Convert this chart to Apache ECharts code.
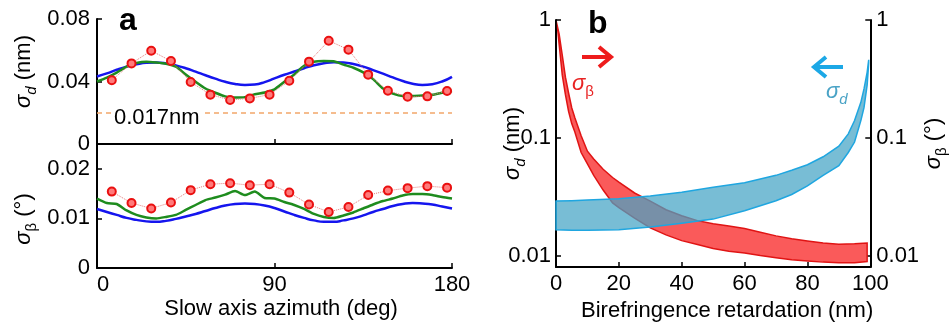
<!DOCTYPE html>
<html>
<head>
<meta charset="utf-8">
<script src="https://cdn.jsdelivr.net/npm/echarts@6/dist/echarts.min.js"></script>
<style>
  html, body { margin: 0; padding: 0; background: #fff; }
  #chart { width: 950px; height: 335px; }
</style>
</head>
<body>
<div id="chart"></div>
<script>
// ---- Panel a: noise vs. slow-axis azimuth ----
const azimuth = [0, 5, 10, 15, 20, 25, 30, 35, 40, 45, 50, 55, 60, 65, 70, 75, 80, 85, 90,
                 95, 100, 105, 110, 115, 120, 125, 130, 135, 140, 145, 150, 155, 160, 165, 170, 175, 180];

// sigma_d (nm): theory (blue) and simulation (green)
const sigmaDTheory = [0.0432, 0.0452, 0.0475, 0.0495, 0.0510, 0.0520, 0.0522, 0.0516, 0.0503, 0.0485,
                      0.0463, 0.0440, 0.0418, 0.0398, 0.0384, 0.0378, 0.0381, 0.0396, 0.0420,
                      0.0443, 0.0464, 0.0485, 0.0504, 0.0517, 0.0524, 0.0522, 0.0512, 0.0495, 0.0473,
                      0.0450, 0.0426, 0.0403, 0.0386, 0.0378, 0.0383, 0.0400, 0.0430];
const sigmaDSim = [0.0400, 0.0425, 0.0457, 0.0495, 0.0518, 0.0527, 0.0522, 0.0514, 0.0495, 0.0445,
                   0.0398, 0.0355, 0.0328, 0.0305, 0.0297, 0.0300, 0.0318, 0.0330, 0.0350,
                   0.0398, 0.0445, 0.0500, 0.0526, 0.0531, 0.0530, 0.0508, 0.0488, 0.0458, 0.0415,
                   0.0355, 0.0322, 0.0307, 0.0307, 0.0310, 0.0315, 0.0328, 0.0339];

// sigma_beta (deg): theory (blue) and simulation (green)
const sigmaBTheory = [0.0119, 0.0113, 0.0107, 0.0101, 0.0097, 0.0094, 0.0093, 0.0095, 0.0099, 0.0104,
                      0.0109, 0.0115, 0.0121, 0.0126, 0.0129, 0.0130, 0.0129, 0.0126, 0.0121,
                      0.0114, 0.0107, 0.0101, 0.0096, 0.0093, 0.0093, 0.0096, 0.0100, 0.0106, 0.0113,
                      0.0119, 0.0125, 0.0129, 0.0131, 0.0130, 0.0128, 0.0124, 0.0120];
const sigmaBSim = [0.0140, 0.0131, 0.0129, 0.0116, 0.0107, 0.0102, 0.0100, 0.0103, 0.0107, 0.0117,
                   0.0127, 0.0137, 0.0142, 0.0148, 0.0155, 0.0147, 0.0154, 0.0141, 0.0140,
                   0.0133, 0.0127, 0.0119, 0.0109, 0.0103, 0.0101, 0.0106, 0.0112, 0.0120, 0.0128,
                   0.0135, 0.0140, 0.0146, 0.0149, 0.0149, 0.0147, 0.0143, 0.0140];

// measured points (red)
const measuredAzimuth = [7.5, 17.5, 27.5, 37.5, 47.5, 57.5, 67.5, 77.5, 87.5,
                         97.5, 107.5, 117.5, 127.5, 137.5, 147.5, 157.5, 167.5, 177.5];
const sigmaDMeasured = [0.0408, 0.0516, 0.0597, 0.0531, 0.0397, 0.0316, 0.0282, 0.0292, 0.0316,
                        0.0405, 0.0527, 0.0661, 0.0604, 0.0444, 0.0341, 0.0303, 0.0305, 0.0339];
const sigmaBMeasured = [0.0154, 0.0131, 0.0120, 0.0132, 0.0157, 0.0169, 0.0171, 0.0167, 0.0169,
                        0.0152, 0.0128, 0.0113, 0.0123, 0.0147, 0.0156, 0.0161, 0.0165, 0.0162];

const noiseFloor = 0.017; // nm

// ---- Panel b: noise vs. birefringence retardation (bands) ----
const retardBeta = [0.5, 1, 2, 3, 4, 5, 6, 8, 10, 12, 15, 18, 20, 25, 30, 35, 40, 45, 50, 55, 60, 65, 70, 75, 80, 85, 90, 95, 99];
const sigmaBHigh = [0.87, 0.76, 0.50, 0.327, 0.24, 0.18, 0.148, 0.104, 0.077, 0.066, 0.054, 0.046, 0.042, 0.034, 0.029,
                    0.0245, 0.0218, 0.0198, 0.0186, 0.0178, 0.0170, 0.0158, 0.0147, 0.0139, 0.0133, 0.0128, 0.0125, 0.0126, 0.0128];
const sigmaBLow = [0.85, 0.62, 0.34, 0.232, 0.168, 0.132, 0.112, 0.075, 0.060, 0.048, 0.036, 0.028, 0.0255, 0.0208, 0.0172,
                   0.0150, 0.0134, 0.0124, 0.0115, 0.0109, 0.0105, 0.0100, 0.0096, 0.0092, 0.0090, 0.0088, 0.0087, 0.0087, 0.0089];

const retardD = [0, 5, 10, 20, 30, 40, 50, 60, 70, 75, 80, 85, 90, 93, 95, 97, 98, 99, 99.5];
const sigmaDHigh = [0.0290, 0.0292, 0.0296, 0.0304, 0.0321, 0.0345, 0.0380, 0.0415, 0.0480, 0.0530,
                    0.0590, 0.0690, 0.0850, 0.1080, 0.1400, 0.2000, 0.2600, 0.3600, 0.4600];
const sigmaDLow = [0.0166, 0.0164, 0.0164, 0.0166, 0.0175, 0.0188, 0.0204, 0.0240, 0.0292, 0.0330,
                   0.0390, 0.0480, 0.0580, 0.0750, 0.0920, 0.1400, 0.1800, 0.2800, 0.4300];

const FONT = '"Liberation Sans", Arial, Helvetica, sans-serif';
const pairs = (xs, ys) => xs.map((x, i) => [x, ys[i]]);

const axisLine = { show: true, onZero: false, lineStyle: { color: '#000', width: 2 } };
const axisTick = { show: true, inside: true, length: 5, lineStyle: { color: '#000', width: 1.5 } };
const labelStyle = { color: '#000', fontSize: 22, fontFamily: FONT };
const nameRich = {
  s: { fontSize: 22, fontStyle: 'italic', fontFamily: FONT, color: '#000', lineHeight: 30 },
  d: { fontSize: 15, fontStyle: 'italic', fontFamily: FONT, color: '#000', lineHeight: 14, verticalAlign: 'bottom' },
  b: { fontSize: 15, fontFamily: FONT, color: '#000', lineHeight: 14, verticalAlign: 'bottom' },
  n: { fontSize: 22, fontFamily: FONT, color: '#000', lineHeight: 30 }
};
const logLabel = v => {
  const l = Math.log10(v);
  return Math.abs(l - Math.round(l)) < 1e-6 ? String(+v.toPrecision(3)) : '';
};

// Filled band between a lower and an upper curve, in data coordinates
function band(xs, lo, hi, fill, stroke) {
  return {
    type: 'custom',
    xAxisIndex: 2,
    yAxisIndex: 2,
    silent: true,
    data: xs.map((x, i) => [x, lo[i], hi[i]]),
    encode: { x: 0, y: [1, 2] },
    renderItem(params, api) {
      if (params.dataIndex !== 0) return null;
      const pts = [];
      for (let i = 0; i < xs.length; i++) pts.push(api.coord([xs[i], hi[i]]));
      for (let i = xs.length - 1; i >= 0; i--) pts.push(api.coord([xs[i], lo[i]]));
      return { type: 'polygon', shape: { points: pts }, style: { fill: fill, stroke: stroke, lineWidth: 1.5 } };
    }
  };
}

const chart = echarts.init(document.getElementById('chart'));

chart.setOption({
  animation: false,
  backgroundColor: '#fff',
  grid: [
    { left: 97, top: 19, width: 355, height: 125 },
    { left: 97, top: 144, width: 355, height: 124 },
    { left: 556, top: 20, width: 323, height: 247 }
  ],
  xAxis: [
    { gridIndex: 0, type: 'value', min: 0, max: 180, interval: 90,
      axisLine, axisTick, axisLabel: { show: false }, splitLine: { show: false } },
    { gridIndex: 1, type: 'value', min: 0, max: 180, interval: 90,
      axisLine, axisTick, splitLine: { show: false },
      axisLabel: Object.assign({ margin: 6, alignMinLabel: 'left' }, labelStyle),
      name: 'Slow axis azimuth (deg)', nameLocation: 'middle', nameGap: 30,
      nameTextStyle: { fontSize: 22, fontFamily: FONT, color: '#000', padding: [0, 0, 0, 13] } },
    { gridIndex: 2, type: 'value', min: 0, max: 100, interval: 20,
      axisLine, axisTick, splitLine: { show: false },
      axisLabel: Object.assign({ margin: 6 }, labelStyle),
      name: 'Birefringence retardation (nm)', nameLocation: 'middle', nameGap: 30,
      nameTextStyle: { fontSize: 22, fontFamily: FONT, color: '#000', padding: [0, 0, 0, 28] } }
  ],
  yAxis: [
    { gridIndex: 0, type: 'value', min: 0, max: 0.08, interval: 0.04,
      axisLine, axisTick, splitLine: { show: false },
      axisLabel: Object.assign({ margin: 7 }, labelStyle),
      name: '{s|σ}{d|d}{n| (nm)}', nameLocation: 'middle', nameGap: 58, nameRotate: 90,
      nameTextStyle: { rich: nameRich, padding: [0, 0, 0, 20] } },
    { gridIndex: 1, type: 'value', min: 0, max: 0.025, interval: 0.01,
      axisLine, axisTick, splitLine: { show: false },
      axisLabel: Object.assign({ margin: 7, showMaxLabel: false }, labelStyle),
      name: '{s|σ}{b|β}{n| (°)}', nameLocation: 'middle', nameGap: 58, nameRotate: 90,
      nameTextStyle: { rich: nameRich, padding: [0, 26, 0, 0] } },
    { gridIndex: 2, type: 'log', logBase: 10, min: 0.008, max: 1, position: 'left',
      axisLine, axisTick, splitLine: { show: false }, minorTick: { show: false },
      axisLabel: Object.assign({ margin: 5, formatter: logLabel, showMinLabel: false }, labelStyle),
      name: '{s|σ}{d|d}{n| (nm)}', nameLocation: 'middle', nameGap: 28, nameRotate: 90,
      nameMoveOverlap: false,
      nameTextStyle: { rich: nameRich } },
    { gridIndex: 2, type: 'log', logBase: 10, min: 0.008, max: 1, position: 'right',
      axisLine, axisTick, splitLine: { show: false }, minorTick: { show: false },
      axisLabel: Object.assign({ margin: 6, formatter: logLabel, showMinLabel: false }, labelStyle),
      name: '{s|σ}{b|β}{n| (°)}', nameLocation: 'middle', nameGap: 46, nameRotate: 90,
      nameTextStyle: { rich: nameRich } }
  ],
  series: [
    { type: 'line', xAxisIndex: 0, yAxisIndex: 0, data: pairs(azimuth, sigmaDTheory),
      symbol: 'none', smooth: true, lineStyle: { color: '#1515ee', width: 2.5 },
      markLine: { silent: true, symbol: 'none', label: { show: false },
        lineStyle: { color: '#f2a66a', type: [5, 4], width: 1.5 },
        data: [{ yAxis: noiseFloor }] } },
    { type: 'line', xAxisIndex: 0, yAxisIndex: 0, data: pairs(azimuth, sigmaDSim),
      symbol: 'none', smooth: 0.2, lineStyle: { color: '#1e8c1e', width: 2.5 } },
    { type: 'line', xAxisIndex: 0, yAxisIndex: 0, data: pairs(measuredAzimuth, sigmaDMeasured),
      symbol: 'circle', symbolSize: 8,
      itemStyle: { color: '#ff7a7a', borderColor: '#ea1010', borderWidth: 2 },
      lineStyle: { color: '#e67a7a', width: 1, type: 'dotted' } },

    { type: 'line', xAxisIndex: 1, yAxisIndex: 1, data: pairs(azimuth, sigmaBTheory),
      symbol: 'none', smooth: true, lineStyle: { color: '#1515ee', width: 2.5 } },
    { type: 'line', xAxisIndex: 1, yAxisIndex: 1, data: pairs(azimuth, sigmaBSim),
      symbol: 'none', smooth: 0.2, lineStyle: { color: '#1e8c1e', width: 2.5 } },
    { type: 'line', xAxisIndex: 1, yAxisIndex: 1, data: pairs(measuredAzimuth, sigmaBMeasured),
      symbol: 'circle', symbolSize: 8,
      itemStyle: { color: '#ff7a7a', borderColor: '#ea1010', borderWidth: 2 },
      lineStyle: { color: '#e67a7a', width: 1, type: 'dotted' } },

    band(retardBeta, sigmaBLow, sigmaBHigh, '#fa5a5a', '#e01414'),
    band(retardD, sigmaDLow, sigmaDHigh, 'rgba(70,165,198,0.73)', '#1fa6e0')
  ]
});

// Annotations: panel letters, noise-floor label and the two direction arrows
const floorY = chart.convertToPixel({ gridIndex: 0 }, [0, noiseFloor])[1];
const richAnn = (color, subItalic) => ({
  s: { fontSize: 22, fontStyle: 'italic', fontFamily: FONT, fill: color, lineHeight: 30 },
  t: { fontSize: 15, fontStyle: subItalic ? 'italic' : 'normal', fontFamily: FONT, fill: color, lineHeight: 14, verticalAlign: 'bottom' }
});
chart.setOption({
  graphic: [
    { type: 'text', z: 100, left: 119, top: 5,
      style: { text: 'a', font: 'bold 32px ' + FONT, fill: '#000' } },
    { type: 'text', z: 100, left: 588, top: 8,
      style: { text: 'b', font: 'bold 32px ' + FONT, fill: '#000' } },
    { type: 'text', z: 100, x: 112, y: floorY,
      style: { text: '0.017nm', font: '22px ' + FONT, fill: '#000', backgroundColor: '#fff',
               padding: [0, 2], verticalAlign: 'middle', align: 'left' } },
    { type: 'group', z: 100, children: [
      { type: 'line', shape: { x1: 582, y1: 57, x2: 610, y2: 57 },
        style: { stroke: '#ee1c1c', lineWidth: 4 } },
      { type: 'polyline', shape: { points: [[599, 47], [611, 57], [599, 67]] },
        style: { stroke: '#ee1c1c', lineWidth: 4, fill: null } },
      { type: 'line', shape: { x1: 815, y1: 67, x2: 843, y2: 67 },
        style: { stroke: '#1ca8e6', lineWidth: 4 } },
      { type: 'polyline', shape: { points: [[826, 57], [814, 67], [826, 77]] },
        style: { stroke: '#1ca8e6', lineWidth: 4, fill: null } }
    ] },
    { type: 'text', z: 100, x: 572, y: 84,
      style: { text: '{s|σ}{t|β}', rich: richAnn('#e82222', false), verticalAlign: 'middle' } },
    { type: 'text', z: 100, x: 826, y: 92,
      style: { text: '{s|σ}{t|d}', rich: richAnn('#4aa3c6', true), verticalAlign: 'middle' } }
  ]
});
</script>
</body>
</html>
